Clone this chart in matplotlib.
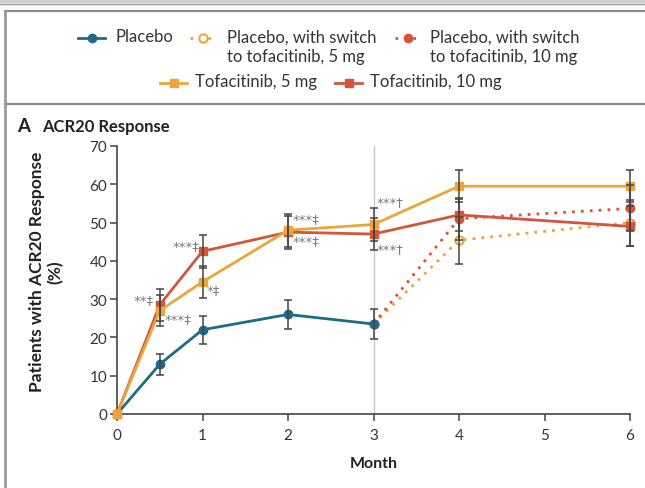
import matplotlib
matplotlib.use('Agg')
import matplotlib.pyplot as plt
from matplotlib.lines import Line2D
import numpy as np

plt.rcParams['font.family'] = ['Lato', 'DejaVu Sans']

# data
months = [0, 0.5, 1, 2, 3, 4, 6]
placebo_x = [0, 0.5, 1, 2, 3]
placebo = [0, 13, 22, 26, 23.5]
placebo_err = [0, 2.7, 3.7, 3.8, 3.8]

tofa5 = [0, 27, 34.5, 48, 49.5, 59.5, 59.5]
tofa5_err = [0, 4.0, 4.2, 4.3, 4.3, 4.2, 4.2]
tofa10 = [0, 28.5, 42.5, 47.5, 47, 52, 49]
tofa10_err = [0, 4.1, 4.3, 4.3, 4.2, 4.2, 5.2]

switch_x = [3, 4, 6]
switch5 = [23.5, 45.4, 50]
switch5_err = [0, 6.1, 6.0]
switch10 = [23.5, 51, 53.7]
switch10_err = [0, 5.5, 6.0]

# significance marks: (x, y, text, ha)
sig_marks = [
    (0.43, 30, '**\u2021', 'right'),
    (0.56, 25, '***\u2021', 'left'),
    (0.96, 44, '***\u2021', 'right'),
    (1.05, 32.5, '*\u2021', 'left'),
    (2.05, 51, '***\u2021', 'left'),
    (2.05, 45.3, '***\u2021', 'left'),
    (3.03, 55.6, '***\u2020', 'left'),
    (3.03, 43.2, '***\u2020', 'left'),
]

legend_labels = ['Placebo', 'Placebo, with switch\nto tofacitinib, 5 mg',
                 'Placebo, with switch\nto tofacitinib, 10 mg',
                 'Tofacitinib, 5 mg', 'Tofacitinib, 10 mg']

c_pla = '#1f6a87'
c_t5 = '#eca53c'
c_t10 = '#d4553a'
c_err = '#444444'
c_txt = '#333333'

W, H = 645, 489
def fx(px): return px / W
def fy(py): return 1 - py / H

fig = plt.figure(figsize=(6.45, 4.89), dpi=100)
ax = fig.add_axes([fx(117), fy(415), fx(630-117), (415-147)/H])

# frame lines of the figure panel
fig.add_artist(Line2D([0, 1], [fy(1.5), fy(1.5)], color='#cfcfcf', lw=3))
fig.add_artist(Line2D([0, 1], [fy(5), fy(5)], color='#9a9a9a', lw=1))
fig.add_artist(Line2D([fx(5), 1], [fy(12), fy(12)], color='#8a8a8a', lw=1.6))
fig.add_artist(Line2D([fx(5), 1], [fy(105), fy(105)], color='#8a8a8a', lw=1.6))
fig.add_artist(Line2D([fx(5), fx(5)], [0, fy(12)], color='#9a9a9a', lw=2))

ax.axvline(3, color='#c8c8c8', lw=1, zorder=0)

dots = (0, (1, 2.2))
styles = {
    'pla': dict(color=c_pla, ls='-', lw=2, marker='o', ms=6),
    's5': dict(color=c_t5, ls=dots, lw=2, marker='o', ms=6, mfc='white', mec=c_t5, mew=1.5),
    's10': dict(color=c_t10, ls=dots, lw=2, marker='o', ms=6),
    't5': dict(color=c_t5, ls='-', lw=2, marker='s', ms=6),
    't10': dict(color=c_t10, ls='-', lw=2, marker='s', ms=6),
}

ax.plot(switch_x, switch5, zorder=3, clip_on=False, **styles['s5'])
ax.plot(switch_x, switch10, zorder=3, clip_on=False, **styles['s10'])
ax.plot(placebo_x, placebo, zorder=4, clip_on=False, **styles['pla'])
ax.plot(months, tofa10, zorder=4, clip_on=False, **styles['t10'])
ax.plot(months, tofa5, zorder=5, clip_on=False, **styles['t5'])

for x, y, e in [(placebo_x, placebo, placebo_err), (months, tofa5, tofa5_err),
                (months, tofa10, tofa10_err), (switch_x, switch5, switch5_err),
                (switch_x, switch10, switch10_err)]:
    x = np.array(x); y = np.array(y); e = np.array(e)
    m = e > 0
    ax.errorbar(x[m], y[m], yerr=e[m], fmt='none', ecolor=c_err, elinewidth=1.1,
                capsize=3, capthick=1.1, zorder=6, clip_on=False)

for x, y, s, ha in sig_marks:
    ax.text(x, y, s, ha=ha, va='center', fontsize=9.5, color='#7a7a7a',
            family=['DejaVu Sans'])

ax.set_xlim(0, 6)
ax.set_ylim(0, 70)
ax.set_xticks(range(7))
ax.set_yticks(range(0, 71, 10))
for s in ['top', 'right']:
    ax.spines[s].set_visible(False)
for s in ['left', 'bottom']:
    ax.spines[s].set_color('#444444')
    ax.spines[s].set_linewidth(1.2)
ax.tick_params(direction='out', length=5, width=1.1, color='#444444',
               labelcolor=c_txt, labelsize=11)
ax.tick_params(axis='x', pad=5)
ax.tick_params(axis='y', pad=2)

ax.set_xlabel('Month', fontsize=11.5, fontweight='bold', color='#222222', labelpad=10)
fig.text(fx(46), fy(272), 'Patients with ACR20 Response\n(%)', rotation=90,
         ha='center', va='center', fontsize=12.5, fontweight='bold',
         color='#222222', linespacing=1.15)
fig.text(fx(17), fy(127), 'A', fontsize=13.5, fontweight='bold',
         color='#222222', va='center')
fig.text(fx(42), fy(127), 'ACR20 Response', fontsize=12,
         fontweight='bold', color='#222222', va='center')

# legend drawn by hand: (handle x0, x1, y, text x, style key)
legend_pos = [(78, 105, 39, 115, 'pla'), (190, 215, 39, 227, 's5'),
              (395, 420, 39, 430, 's10'), (160, 187, 84, 195, 't5'),
              (335, 362, 84, 370, 't10')]
for (x0, x1, y, tx, key), lab in zip(legend_pos, legend_labels):
    st = dict(styles[key])
    mk = st.pop('marker'); ms = st.pop('ms')
    mfc = st.pop('mfc', None); mec = st.pop('mec', None); mew = st.pop('mew', None)
    fig.add_artist(Line2D([fx(x0), fx(x1)], [fy(y), fy(y)], **st))
    fig.add_artist(Line2D([fx((x0+x1)/2)], [fy(y)], marker=mk, ms=ms,
                          color=st['color'], mfc=mfc or st['color'],
                          mec=mec or st['color'], mew=mew or 1, ls='none'))
    fig.text(fx(tx), fy(y - 9.5), lab, ha='left', va='top', fontsize=12,
             color=c_txt, linespacing=1.26)

fig.savefig('out.png', dpi=100, facecolor='white')
